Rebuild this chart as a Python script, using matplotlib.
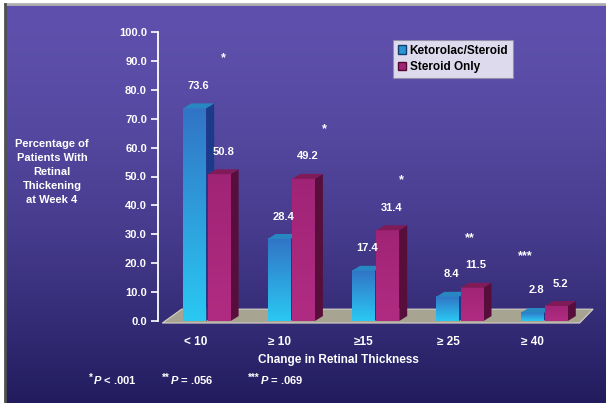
import numpy as np
import matplotlib
matplotlib.use("Agg")
import matplotlib.pyplot as plt
from matplotlib.patches import Polygon, Patch
from matplotlib.lines import Line2D

plt.rcParams['font.family'] = ['Liberation Sans', 'DejaVu Sans']
plt.rcParams['mathtext.fontset'] = 'custom'
plt.rcParams['mathtext.rm'] = 'Liberation Sans:bold'
plt.rcParams['mathtext.it'] = 'Liberation Sans:bold:italic'
plt.rcParams['mathtext.bf'] = 'Liberation Sans:bold'

# ---- data ----
categories = ["< 10", "\u2265 10", "\u226515", "\u2265 25", "\u2265 40"]
ketorolac_steroid = [73.6, 28.4, 17.4, 8.4, 2.8]
steroid_only = [50.8, 49.2, 31.4, 11.5, 5.2]
significance = ["*", "*", "*", "**", "***"]
series_names = ["Ketorolac/Steroid", "Steroid Only"]
y_ticks = [0, 10, 20, 30, 40, 50, 60, 70, 80, 90, 100]
footnote_marks = ["*", "**", "***"]
footnote_texts = [r"$\mathit{P}$ < .001", r"$\mathit{P}$ = .056", r"$\mathit{P}$ = .069"]

W, H = 606, 403
fig = plt.figure(figsize=(W / 100, H / 100), dpi=100, facecolor='white')

# ---- background gradient ----
bg = fig.add_axes([5 / W, 0, (W - 5) / W, (H - 4) / H])
bg.set_axis_off()
top_c = np.array([94, 80, 172]) / 255
bot_c = np.array([34, 28, 94]) / 255
t = np.linspace(0, 1, 256) ** 1.6
grad = top_c[None, :] * (1 - t[:, None]) + bot_c[None, :] * t[:, None]
bg.imshow(grad[:, None, :], aspect='auto', extent=[0, 1, 0, 1], origin='upper')
bg.set_xlim(0, 1); bg.set_ylim(0, 1)
fig.add_artist(Line2D([5 / W, 1], [1 - 4 / H, 1 - 4 / H], color='#b0b0b0', lw=2.0))
fig.add_artist(Line2D([5 / W, 5 / W], [0, 1 - 4 / H], color='#505050', lw=2.0))

# ---- main axes ----
px_left, px_right, px_top, px_zero = 158, 600, 32, 321
ax = fig.add_axes([px_left / W, 1 - px_zero / H, (px_right - px_left) / W, (px_zero - px_top) / H])
ax.patch.set_alpha(0)
unit_px = 84.3
x0_px = 207
xlim = ((px_left - x0_px) / unit_px, (px_right - x0_px) / unit_px)
ax.set_xlim(*xlim)
ax.set_ylim(0, 100)

bw = 0.27
dx, dy = 0.095, 1.7   # depth offsets (3D look)


def hexc(r, g, b):
    return (r / 255, g / 255, b / 255)


def grad_rect(x0, x1, y0, y1, c_top, c_bot, z):
    tt = np.linspace(0, 1, 64)[:, None]
    a = np.array(c_top)[None, :] * (1 - tt) + np.array(c_bot)[None, :] * tt
    ax.imshow(a[:, None, :], extent=[x0, x1, y0, y1], aspect='auto', origin='upper',
              zorder=z, interpolation='bilinear', clip_on=False)


def bar3d(xl, h, front_top, front_bot, side, top, z):
    xr = xl + bw
    ax.add_patch(Polygon([[xr, 0], [xr + dx, dy], [xr + dx, h + dy], [xr, h]],
                         closed=True, fc=side, ec='none', zorder=z, clip_on=False))
    grad_rect(xl, xr, 0, h, front_top, front_bot, z + 0.1)
    ax.add_patch(Polygon([[xl, h], [xr, h], [xr + dx, h + dy], [xl + dx, h + dy]],
                         closed=True, fc=top, ec='none', zorder=z + 0.2, clip_on=False))


# floor
n = len(categories)
floor = Polygon([[-0.53, -0.7], [n - 0.58, -0.7], [n - 0.42, 4.1], [-0.30, 4.1]],
                closed=True, fc=hexc(168, 164, 146), ec=hexc(215, 212, 200), lw=0.8,
                zorder=1, clip_on=False)
ax.add_patch(floor)

blue = dict(front_top=hexc(50, 116, 198), front_bot=hexc(42, 200, 242),
            side=hexc(28, 58, 138), top=hexc(40, 135, 195))
mag = dict(front_top=hexc(160, 36, 118), front_bot=hexc(176, 44, 130),
           side=hexc(88, 14, 58), top=hexc(128, 26, 88))

xs = np.arange(n)
for i in range(n):
    bar3d(xs[i] - 0.28, ketorolac_steroid[i], z=2 + i, **blue)
    bar3d(xs[i] + 0.01, steroid_only[i], z=2.5 + i, **mag)

lab_kw = dict(color='white', fontsize=8, fontweight='bold', ha='center', va='bottom',
              textcoords='offset points', annotation_clip=False, zorder=20)
for i in range(n):
    ax.annotate(f"{ketorolac_steroid[i]:.1f}", (xs[i] - 0.28 + bw / 2 + dx / 2, ketorolac_steroid[i] + dy),
                xytext=(0, 9), **lab_kw)
    ax.annotate(f"{steroid_only[i]:.1f}", (xs[i] + 0.01 + bw / 2 + dx / 2, steroid_only[i] + dy),
                xytext=(0, 9), **lab_kw)

star_dx = [0.2, 0.39, 0.31, 0.12, -0.22]
for i in range(n):
    m = max(ketorolac_steroid[i], steroid_only[i])
    ax.annotate(significance[i], (xs[i] + star_dx[i], m), xytext=(0, 36),
                textcoords='offset points', ha='center', va='center', color='white',
                fontsize=9, fontweight='bold', annotation_clip=False, zorder=20)

# axes styling
for s in ['top', 'right', 'bottom']:
    ax.spines[s].set_visible(False)
ax.spines['left'].set_color('white')
ax.spines['left'].set_linewidth(1.3)
ax.spines['left'].set_bounds(0, 100)
ax.set_yticks(y_ticks)
ax.set_yticklabels([f"{v:.1f}" for v in y_ticks])
ax.tick_params(axis='y', colors='white', length=5, width=1.2, pad=3, labelsize=8)
for lbl in ax.get_yticklabels():
    lbl.set_fontweight('bold')
ax.set_xticks(xs - 0.14)
ax.set_xticklabels(categories)
ax.tick_params(axis='x', length=0, pad=11, labelsize=8.5, labelcolor='white')
for lbl in ax.get_xticklabels():
    lbl.set_fontweight('bold')

# texts
fig.text(338 / W, 1 - 360 / H, "Change in Retinal Thickness", color='white', fontsize=8.5,
         fontweight='bold', ha='center', va='center')
fig.text(52 / W, 1 - 172 / H, "Percentage of\nPatients With\nRetinal\nThickening\nat Week 4",
         color='white', fontsize=8, fontweight='bold', ha='center', va='center', linespacing=1.5)
for fx, mark, txt in zip([93, 170, 260], footnote_marks, footnote_texts):
    pt = fig.text(fx / W, 1 - 380 / H, txt, color='white', fontsize=8, fontweight='bold',
                  ha='left', va='center')
    ax.annotate(mark, xy=(0, 1), xycoords=pt, xytext=(-0.3, 1.0), textcoords='offset points',
                color='white', fontsize=7, fontweight='bold', ha='right', va='top',
                annotation_clip=False)

# legend
handles = [Patch(fc=hexc(44, 150, 210), ec=hexc(20, 60, 110), label=series_names[0]),
           Patch(fc=hexc(160, 36, 118), ec=hexc(80, 10, 50), label=series_names[1])]
leg = ax.legend(handles=handles, loc='upper left', bbox_to_anchor=(393 / W, 1 - 40 / H),
                bbox_transform=fig.transFigure, borderaxespad=0, fancybox=False,
                handlelength=0.7, handleheight=0.7, handletextpad=0.3, borderpad=0.4,
                labelspacing=0.4, prop={'weight': 'bold', 'size': 8.5})
leg.get_frame().set_edgecolor('#9090a0')
leg.get_frame().set_linewidth(0.8)
leg.set_zorder(30)

fig.savefig("out.png", dpi=100, facecolor=fig.get_facecolor())
